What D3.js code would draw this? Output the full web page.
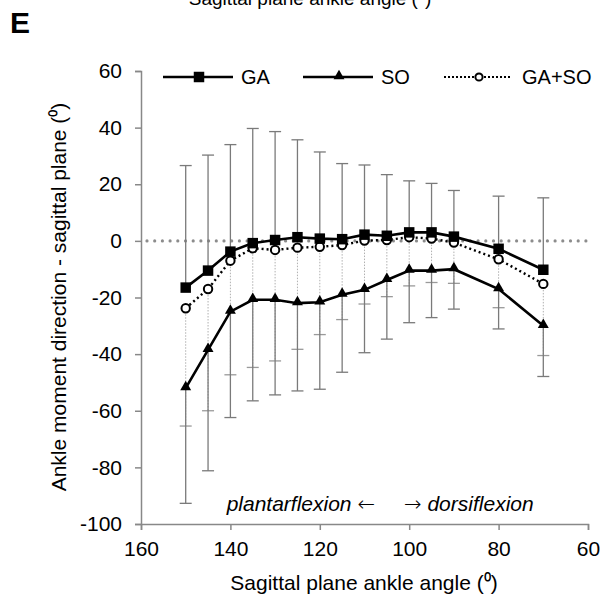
<!DOCTYPE html>
<html>
<head>
<meta charset="utf-8">
<script src="https://cdn.jsdelivr.net/npm/d3@7"></script>
<style>
  body { margin: 0; background: #fff; }
  text { font-family: "Liberation Sans", Arial, sans-serif; }
</style>
</head>
<body>
<script>
// ankle angle (deg) at each sample
var angles = [150, 145, 140, 135, 130, 125, 120, 115, 110, 105, 100, 95, 90, 80, 70];

// GA series: mean and SD (drawn upward)
var ga   = [-16.5, -10.5, -3.8, -0.8, 0.3, 1.3, 0.8, 0.6, 2.2, 1.8, 3, 3, 1.5, -2.8, -10.2];
var gaSD = [43.1, 40.8, 37.8, 40.5, 38.3, 34.4, 30.6, 26.7, 24.6, 21.6, 18.2, 17.3, 16.3, 18.6, 25.4];

// SO series: mean and SD (drawn downward)
var so   = [-52, -38.5, -25, -20.8, -20.8, -22, -21.7, -19, -17.3, -13.8, -10.5, -10.5, -10, -17, -30];
var soSD = [40.7, 42.7, 37.4, 35.7, 33.6, 31, 30.7, 27.4, 22.2, 20.9, 18.4, 16.6, 14.1, 14.1, 17.9];

// GA+SO series: mean and SD (drawn downward, dotted)
var gaso   = [-23.8, -17, -7, -2.6, -3.2, -2.4, -2.1, -1.5, 0.1, 0.3, 1.3, 0.8, -0.6, -6.5, -15.2];
var gasoSD = [41.6, 43, 40.3, 42.1, 39.2, 35.9, 31, 26.3, 22.4, 20, 17.2, 15.5, 14.4, 17.1, 25.3];

var xTicks = [160, 140, 120, 100, 80, 60];
var yTicks = [60, 40, 20, 0, -20, -40, -60, -80, -100];

var W = 603, H = 598;
var svg = d3.select("body").append("svg").attr("width", W).attr("height", H);

var x = d3.scaleLinear().domain([160, 60]).range([141, 588]);
var y = d3.scaleLinear().domain([-100, 60]).range([524, 71]);

var axisCol = "#888";
var barCol = "#7a7a7a";

// cut-off title from the panel above
svg.append("text").attr("x", 310).attr("y", 5).attr("text-anchor", "middle")
  .style("font-size", "19px").text("Sagittal plane ankle angle (\u2070)");

// panel letter
svg.append("text").attr("x", 10).attr("y", 33).style("font-size", "30px")
  .style("font-weight", "bold").text("E");

// axes
var fmt = function(d) { return String(d); };
var xAxis = svg.append("g").attr("transform", "translate(0," + y(-100) + ")")
  .call(d3.axisBottom(x).tickValues(xTicks).tickSize(6).tickPadding(11).tickFormat(fmt));
var yAxis = svg.append("g").attr("transform", "translate(" + x(160) + ",0)")
  .call(d3.axisLeft(y).tickValues(yTicks).tickSize(6).tickPadding(13).tickFormat(fmt));
[xAxis, yAxis].forEach(function(a) {
  a.select(".domain").attr("stroke", axisCol).attr("stroke-width", 1.5);
  a.selectAll(".tick line").attr("stroke", axisCol).attr("stroke-width", 1.5);
  a.selectAll(".tick text").style("font-size", "21px").attr("fill", "#000")
    .style("font-family", "Liberation Sans, Arial, sans-serif");
});

// zero line (grey dots)
svg.append("line").attr("x1", x(160) + 6).attr("x2", x(60))
  .attr("y1", y(0)).attr("y2", y(0))
  .attr("stroke", "#8c8c8c").attr("stroke-width", 3.2)
  .attr("stroke-linecap", "round").attr("stroke-dasharray", "0,7.7");

// error bars
function bars(mean, sd, dir, dotted) {
  var g = svg.append("g");
  angles.forEach(function(a, i) {
    var end = mean[i] + dir * sd[i];
    g.append("line").attr("x1", x(a)).attr("x2", x(a))
      .attr("y1", y(mean[i])).attr("y2", y(end))
      .attr("stroke", dotted ? "#b0b0b0" : barCol)
      .attr("stroke-width", dotted ? 1 : 1.3)
      .attr("stroke-dasharray", dotted ? "1.5,1.5" : null);
    g.append("line").attr("x1", x(a) - 6).attr("x2", x(a) + 6)
      .attr("y1", y(end)).attr("y2", y(end))
      .attr("stroke", dotted ? "#9a9a9a" : barCol).attr("stroke-width", 1.3);
  });
}
bars(gaso, gasoSD, -1, true);
bars(so, soSD, -1, false);
bars(ga, gaSD, 1, false);

var line = function(vals) {
  return d3.line().x(function(d, i) { return x(angles[i]); })
    .y(function(d) { return y(d); })(vals);
};

// series lines
svg.append("path").attr("d", line(so)).attr("fill", "none").attr("stroke", "#000").attr("stroke-width", 2.6);
svg.append("path").attr("d", line(gaso)).attr("fill", "none").attr("stroke", "#000")
  .attr("stroke-width", 2.4).attr("stroke-dasharray", "2,3");
svg.append("path").attr("d", line(ga)).attr("fill", "none").attr("stroke", "#000").attr("stroke-width", 2.6);

// markers
var sq = d3.symbol().type(d3.symbolSquare).size(110);
var tri = d3.symbol().type(d3.symbolTriangle).size(52);
svg.selectAll(".mso").data(so).enter().append("path")
  .attr("d", tri).attr("fill", "#000")
  .attr("transform", function(d, i) { return "translate(" + x(angles[i]) + "," + (y(d) - 1) + ")"; });
svg.selectAll(".mgaso").data(gaso).enter().append("circle")
  .attr("cx", function(d, i) { return x(angles[i]); })
  .attr("cy", function(d) { return y(d); })
  .attr("r", 4.2).attr("fill", "#fff").attr("stroke", "#000").attr("stroke-width", 2);
svg.selectAll(".mga").data(ga).enter().append("path")
  .attr("d", sq).attr("fill", "#000")
  .attr("transform", function(d, i) { return "translate(" + x(angles[i]) + "," + y(d) + ")"; });

// legend
var leg = svg.append("g");
var ly = 77;
leg.append("line").attr("x1", 163).attr("x2", 233).attr("y1", ly).attr("y2", ly).attr("stroke", "#000").attr("stroke-width", 2.6);
leg.append("path").attr("d", sq).attr("fill", "#000").attr("transform", "translate(199," + ly + ")");
leg.append("text").attr("x", 241).attr("y", ly + 7).style("font-size", "20px").text("GA");
leg.append("line").attr("x1", 303).attr("x2", 373).attr("y1", ly).attr("y2", ly).attr("stroke", "#000").attr("stroke-width", 2.6);
leg.append("path").attr("d", tri).attr("fill", "#000").attr("transform", "translate(339," + (ly - 1) + ")");
leg.append("text").attr("x", 381).attr("y", ly + 7).style("font-size", "20px").text("SO");
leg.append("line").attr("x1", 444).attr("x2", 510).attr("y1", ly).attr("y2", ly).attr("stroke", "#000")
  .attr("stroke-width", 2.2).attr("stroke-dasharray", "2,2");
leg.append("circle").attr("cx", 479).attr("cy", ly).attr("r", 3.6).attr("fill", "#fff").attr("stroke", "#000").attr("stroke-width", 2);
leg.append("text").attr("x", 522).attr("y", ly + 7).style("font-size", "20px").text("GA+SO");

// direction annotations (arrows in DejaVu, which has the wide glyphs)
var t1 = svg.append("text").attr("x", 375).attr("y", 511).attr("text-anchor", "end")
  .style("font-size", "21px").style("font-style", "italic");
t1.append("tspan").text("plantarflexion ");
t1.append("tspan").style("font-family", "DejaVu Sans").style("font-style", "normal")
  .style("font-weight", "300").text("\u2190");
var t2 = svg.append("text").attr("x", 404).attr("y", 511)
  .style("font-size", "21px").style("font-style", "italic");
t2.append("tspan").style("font-family", "DejaVu Sans").style("font-style", "normal")
  .style("font-weight", "300").text("\u2192");
t2.append("tspan").text(" dorsiflexion");

// axis titles
svg.append("text").attr("x", 364).attr("y", 590).attr("text-anchor", "middle")
  .style("font-size", "21px").text("Sagittal plane ankle angle (\u2070)");
svg.append("text").attr("transform", "translate(66,297) rotate(-90)").attr("text-anchor", "middle")
  .style("font-size", "21px").text("Ankle moment direction - sagittal plane (\u2070)");
</script>
</body>
</html>
